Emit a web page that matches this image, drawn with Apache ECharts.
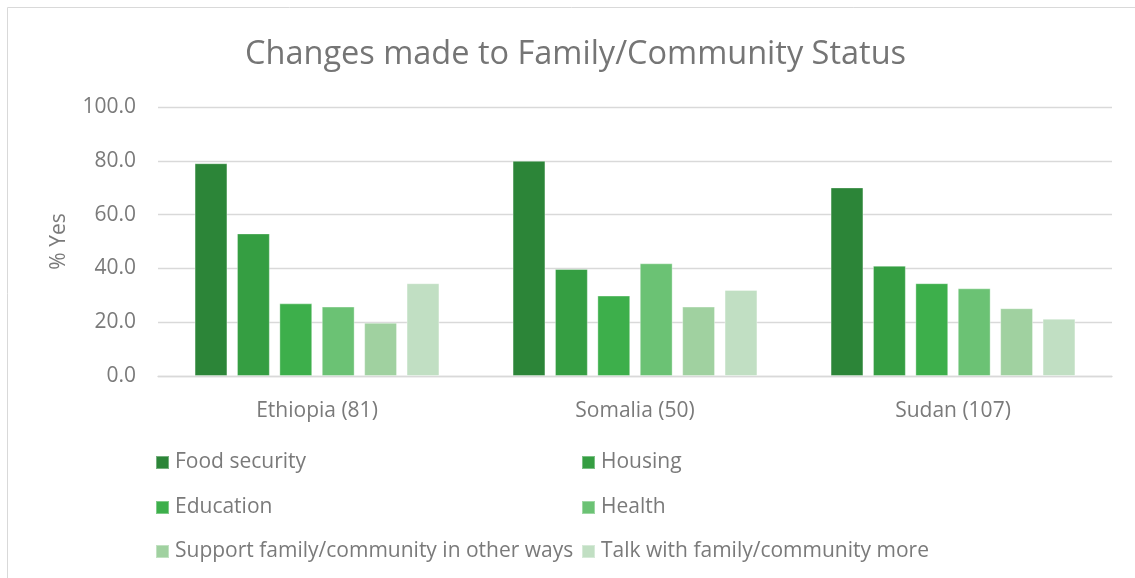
<!DOCTYPE html>
<html lang="en">
<head>
    <meta charset="UTF-8">
    <title>Changes made to Family/Community Status</title>
    <script src="https://cdn.jsdelivr.net/npm/echarts@6/dist/echarts.min.js"></script>
    <style>
        html, body { margin: 0; padding: 0; background: #ffffff; }
        #main { width: 1135px; height: 578px; }
    </style>
</head>
<body>
    <div id="main"></div>
    <script>
        // 数据
        var countries = ['Ethiopia (81)', 'Somalia (50)', 'Sudan (107)'];
        var seriesNames = [
            'Food security',
            'Housing',
            'Education',
            'Health',
            'Support family/community in other ways',
            'Talk with family/community more'
        ];
        var foodSecurity = [79.1, 80.0, 70.1];
        var housing = [53.0, 39.8, 41.0];
        var education = [27.0, 29.9, 34.5];
        var health = [25.8, 41.9, 32.6];
        var supportOther = [19.8, 25.8, 25.2];
        var talkMore = [34.5, 32.0, 21.3];
        var yTicks = [0, 20, 40, 60, 80, 100];

        var seriesValues = [foodSecurity, housing, education, health, supportOther, talkMore];
        var colors = ['#2c8538', '#359e42', '#3daf4b', '#6bc274', '#a0d1a0', '#c1dfc3'];
        var fontName = '"Open Sans", sans-serif';
        var textGray = '#7a7a7a';

        // 图例位置 (两列)
        var legendPos = [[150, 447], [576, 447], [150, 492], [576, 492], [150, 536], [576, 536]];

        var legends = seriesNames.map(function (name, i) {
            return {
                data: [name],
                left: legendPos[i][0],
                top: legendPos[i][1],
                itemWidth: 13,
                itemHeight: 13,
                itemGap: 0,
                icon: 'rect',
                selectedMode: false,
                textStyle: { color: textGray, fontSize: 21, fontFamily: fontName, padding: [0, 0, 0, 1] }
            };
        });

        var series = seriesNames.map(function (name, i) {
            return {
                name: name,
                type: 'bar',
                data: seriesValues[i],
                barGap: '29%',
                barCategoryGap: '23%',
                itemStyle: { color: colors[i], borderColor: 'rgba(255,255,255,0.35)', borderWidth: 1 }
            };
        });

        var option = {
            animation: false,
            color: colors,
            title: {
                text: 'Changes made to Family/Community Status',
                left: 240,
                top: 33,
                textStyle: { color: '#757575', fontSize: 32.5, fontWeight: 'normal', fontFamily: fontName }
            },
            graphic: [{
                type: 'rect',
                shape: { x: 7.5, y: 7.5, width: 1140, height: 600 },
                style: { fill: 'none', stroke: '#d9d9d9', lineWidth: 1 },
                silent: true
            }],
            legend: legends,
            grid: { left: 158, right: 23, top: 107, bottom: 202 },
            xAxis: {
                type: 'category',
                data: countries,
                axisLine: { lineStyle: { color: '#d9d9d9', width: 1.3 } },
                axisTick: { show: false },
                axisLabel: { color: textGray, fontSize: 21, fontFamily: fontName, margin: 25 }
            },
            yAxis: {
                type: 'value',
                min: yTicks[0],
                max: yTicks[yTicks.length - 1],
                interval: 20,
                name: '% Yes',
                nameLocation: 'middle',
                nameGap: 88,
                nameRotate: 90,
                nameTextStyle: { color: textGray, fontSize: 21, fontFamily: fontName },
                axisLine: { show: false },
                axisTick: { show: false },
                splitLine: { lineStyle: { color: '#d9d9d9', width: 1.3 } },
                axisLabel: {
                    color: textGray, fontSize: 21, fontFamily: fontName, margin: 22,
                    formatter: function (v) { return v.toFixed(1); }
                }
            },
            series: series
        };

        var myChart = echarts.init(document.getElementById('main'));
        myChart.setOption(option);
    </script>
</body>
</html>
